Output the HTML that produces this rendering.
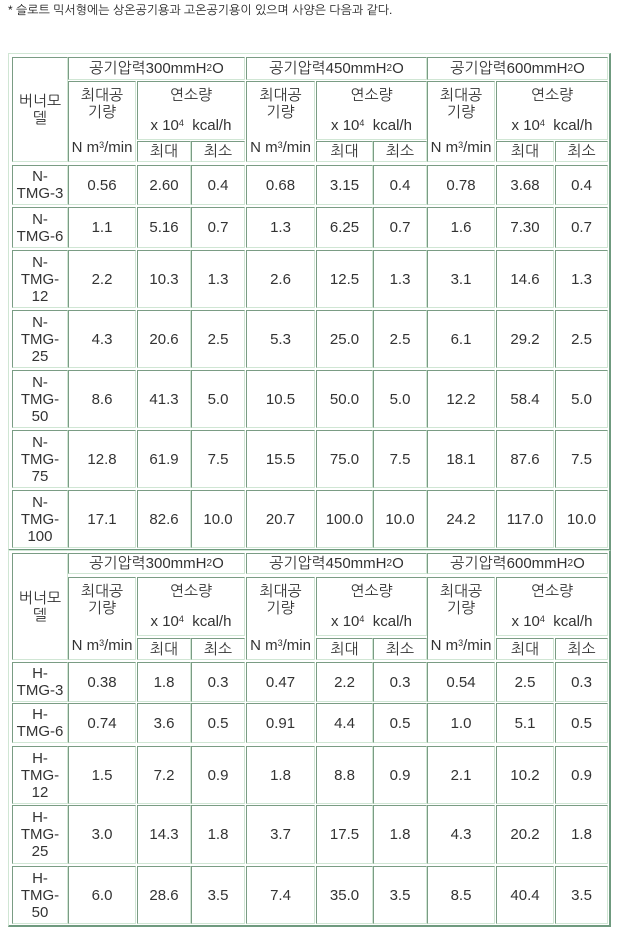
<!DOCTYPE html>
<html><head><meta charset="utf-8">
<style>
html,body{margin:0;padding:0;background:#fff;width:622px;height:945px;overflow:hidden;position:relative;
font-family:"Liberation Sans","NanumGothic","Noto Sans CJK KR",sans-serif;color:#333;}
.title{position:absolute;left:8px;top:3px;font-size:12px;white-space:nowrap;color:#222;}
.frame{position:absolute;box-sizing:border-box;border-top:1px solid #d0e6d4;border-left:1px solid #d0e6d4;border-right:2px solid #6f9a7f;border-bottom:2px solid #6f9a7f;}
.c{position:absolute;box-sizing:border-box;border-top:1px solid #7a9c84;border-left:1px solid #7a9c84;border-right:1px solid #d0e6d4;border-bottom:1px solid #d0e6d4;
background:#fff;font-size:15px;line-height:17px;text-align:center;display:flex;align-items:center;justify-content:center;}
.t{position:absolute;left:0;right:0;text-align:center;font-size:15px;line-height:17px;}
sup{font-size:9px;vertical-align:top;position:relative;top:-2px;}
sub{font-size:10px;vertical-align:baseline;}
</style></head><body>
<div class="title">* 슬로트 믹서형에는 상온공기용과 고온공기용이 있으며 사양은 다음과 같다.</div>
<script>
const nModels = ["N-<br>TMG-3","N-<br>TMG-6","N-<br>TMG-<br>12","N-<br>TMG-<br>25","N-<br>TMG-<br>50","N-<br>TMG-<br>75","N-<br>TMG-<br>100"];
const nValues = [
["0.56","2.60","0.4","0.68","3.15","0.4","0.78","3.68","0.4"],
["1.1","5.16","0.7","1.3","6.25","0.7","1.6","7.30","0.7"],
["2.2","10.3","1.3","2.6","12.5","1.3","3.1","14.6","1.3"],
["4.3","20.6","2.5","5.3","25.0","2.5","6.1","29.2","2.5"],
["8.6","41.3","5.0","10.5","50.0","5.0","12.2","58.4","5.0"],
["12.8","61.9","7.5","15.5","75.0","7.5","18.1","87.6","7.5"],
["17.1","82.6","10.0","20.7","100.0","10.0","24.2","117.0","10.0"]];
const hModels = ["H-<br>TMG-3","H-<br>TMG-6","H-<br>TMG-<br>12","H-<br>TMG-<br>25","H-<br>TMG-<br>50"];
const hValues = [
["0.38","1.8","0.3","0.47","2.2","0.3","0.54","2.5","0.3"],
["0.74","3.6","0.5","0.91","4.4","0.5","1.0","5.1","0.5"],
["1.5","7.2","0.9","1.8","8.8","0.9","2.1","10.2","0.9"],
["3.0","14.3","1.8","3.7","17.5","1.8","4.3","20.2","1.8"],
["6.0","28.6","3.5","7.4","35.0","3.5","8.5","40.4","3.5"]];
const pressures = ["300","450","600"];

const X = [[12,67],[68,135],[137,190],[191,244],[246,314],[316,372],[373,426],[427,494],[496,553],[555,607]];

function cell(x1,y1,x2,y2,html,name){
  const d=document.createElement('div');
  d.className='c';
  d.style.left=x1+'px';d.style.top=y1+'px';d.style.width=(x2-x1+1)+'px';d.style.height=(y2-y1+1)+'px';
  d.innerHTML=html;
  
  
  document.body.appendChild(d);
  return d;
}
function buildTable(fy, hdr, rows, models, values, prefix, bottom){
  const f=document.createElement('div');
  f.className='frame';
  f.style.left='8px';f.style.top=fy+'px';f.style.width='603px';f.style.height=(bottom-fy+1)+'px';
  
  
  document.body.appendChild(f);
  const h1=hdr[0], h2=hdr[1], h3=hdr[2];
  cell(X[0][0],h1[0],X[0][1],h3[1],'버너모<br>델',prefix+'-model-header');
  for(let g=0;g<3;g++){
    const a=1+g*3;
    cell(X[a][0],h1[0],X[a+2][1],h1[1],'공기압력'+pressures[g]+'mmH<sub>2</sub>O',prefix+'-pressure-header');
    const m=cell(X[a][0],h2[0],X[a][1],h3[1],'',prefix+'-max-air-header');
    m.innerHTML='<div class="t" style="top:5px">최대공<br>기량</div><div class="t" style="top:'+(h3[1]-h2[0]-23)+'px">N m<sup>3</sup>/min</div>';
    const b=cell(X[a+1][0],h2[0],X[a+2][1],h2[1],'',prefix+'-combustion-header');
    b.innerHTML='<div class="t" style="top:5px">연소량</div><div class="t" style="top:'+(h2[1]-h2[0]-23)+'px">x 10<sup>4</sup>&nbsp;&nbsp;kcal/h</div>';
    cell(X[a+1][0],h3[0],X[a+1][1],h3[1],'최대',prefix+'-max-header');
    cell(X[a+2][0],h3[0],X[a+2][1],h3[1],'최소',prefix+'-min-header');
  }
  rows.forEach((r,i)=>{
    cell(X[0][0],r[0],X[0][1],r[1],models[i],prefix+'-model-name');
    values[i].forEach((v,j)=>{cell(X[j+1][0],r[0],X[j+1][1],r[1],v,prefix+'-value-cell');});
  });
}
buildTable(53,[[57,79],[81,139],[141,161]],
 [[165,204],[207,247],[250,307],[310,367],[370,427],[430,487],[490,547]],nModels,nValues,'n-tmg',550);
buildTable(550,[[553,573],[577,635],[638,659]],
 [[662,701],[703,742],[746,803],[805,863],[866,923]],hModels,hValues,'h-tmg',926);
</script>
</body></html>
